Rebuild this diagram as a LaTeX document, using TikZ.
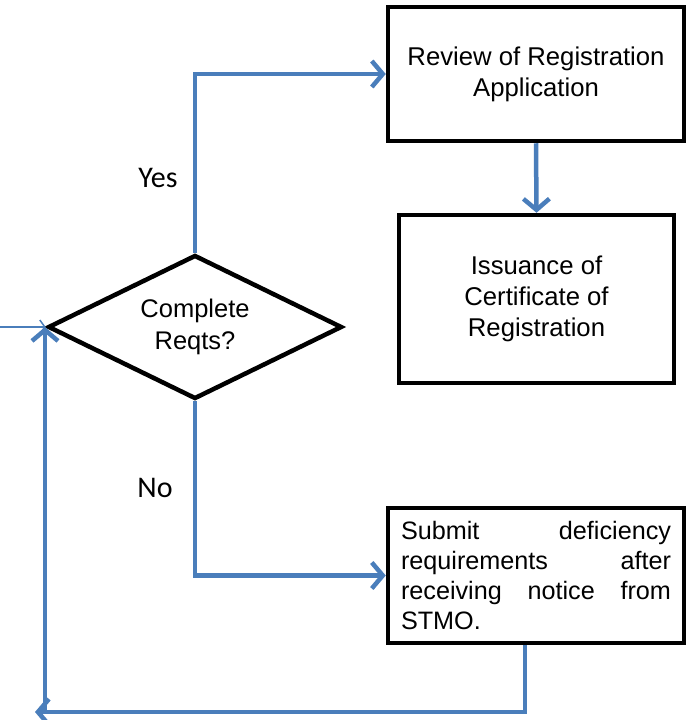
\documentclass[tikz,border=0pt]{standalone}
\usepackage{fontspec}
\setmainfont{Liberation Sans}
\newfontfamily\answerfont{Carlito}
\usepackage{xcolor}
\usetikzlibrary{arrows.meta, shapes.geometric}

\definecolor{flowblue}{HTML}{4A7EBB}

\begin{document}
\begin{tikzpicture}[x=1pt, y=-1pt,
        stepbox/.style={draw=black, line width=4.5pt, rectangle, inner sep=0pt, align=center, font=\fontsize{25.7}{31}\selectfont},
        decision/.style={draw=black, line width=4.5pt, diamond, aspect=2, inner sep=0pt, minimum width=294pt, minimum height=144pt, align=center, font=\fontsize{25.5}{32}\selectfont},
        flow/.style={flowblue, line width=4.5pt, -{Straight Barb[length=11pt, width=26pt]}},
        entryflow/.style={flowblue, line width=1.5pt, -{Straight Barb[length=5pt, width=14pt]}},
        answer/.style={font=\answerfont\fontsize{30}{36}\selectfont}]
                        \useasboundingbox (0,0) rectangle (691,720);
                        \node[decision] (reqts) at (195,327) {Complete\\Reqts?};
                        \node[stepbox, minimum width=296pt, minimum height=134pt] (review) at (536,74) {Review of Registration\\Application};
                        \node[stepbox, minimum width=275pt, minimum height=168pt] (issue) at (536.5,299) {Issuance of\\Certificate of\\Registration};
                        \node[stepbox, minimum width=296pt, minimum height=135pt] (deficiency) at (536,575.5) {\parbox{270pt}{\fontsize{25.2}{30}\selectfont Submit\hfill deficiency\\ requirements\hfill after\\ receiving\hfill notice\hfill from\\ STMO.}};
                        \node[answer] (yes) at (158,178) {Yes};
                        \node[answer] (no) at (155,488) {No};
                        % loop back and entry
                        \coordinate (entry) at (0,327);
                        \coordinate (loopend) at (35,712);
                        \coordinate (loopfoot) at (45,712);
                        \draw[flow] (reqts.north) |- (review.west);
                        \draw[flow] (review.south) -- (issue.north);
                        \draw[flow] (reqts.south) |- (deficiency.west);
                        \draw[flow] ([xshift=-11pt]deficiency.south) |- (loopend);
                        \draw[flow] (loopfoot) -- (loopfoot |- reqts.west);
                        \draw[entryflow] (entry) -- (reqts.west);
                    \end{tikzpicture}
\end{document}
